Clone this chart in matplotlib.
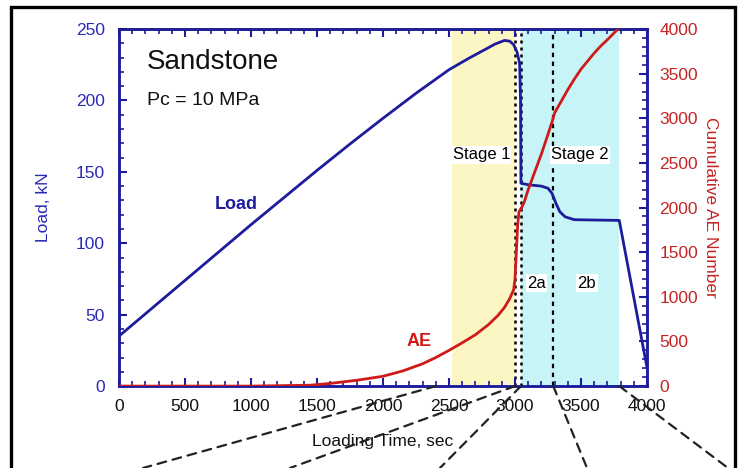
import matplotlib.pyplot as plt
from matplotlib.patches import Rectangle, ConnectionPatch

plt.rcParams['font.family'] = ['Liberation Sans', 'DejaVu Sans']

# load record, kN vs loading time, s
load_t = [0, 250, 500, 750, 1000, 1250, 1500, 1750, 2000, 2250, 2500, 2650, 2750,
          2850, 2920, 2960, 2990, 3015, 3035, 3042, 3045, 3100, 3200, 3250, 3280,
          3310, 3340, 3380, 3450, 3790, 4000]
load_kn = [35, 54.5, 74, 93.5, 113, 132, 151, 169.5, 187.5, 205, 221.5, 229.5, 234.5,
           239.5, 242, 241.5, 239, 234, 226, 200, 142, 141, 140, 138.5, 135,
           128, 122, 118.5, 116.5, 116, 13]

# cumulative acoustic emission count
ae_t = [0, 1000, 1450, 1600, 1800, 2000, 2150, 2300, 2400, 2500, 2600, 2700, 2800,
        2870, 2920, 2960, 2990, 3000, 3010, 3020, 3030, 3050, 3070, 3100, 3150,
        3200, 3250, 3285, 3300, 3350, 3400, 3450, 3500, 3550, 3600, 3650, 3700, 3780]
ae_n = [0, 0, 10, 30, 65, 110, 170, 250, 320, 400, 485, 575, 690,
        790, 880, 980, 1080, 1200, 1500, 1800, 1950, 2000, 2060, 2200, 2400,
        2600, 2820, 2980, 3060, 3190, 3320, 3440, 3550, 3640, 3730, 3810, 3880, 4000]

stage1 = (2520, 3000)
stage2 = (3045, 3790)
split_2ab = 3290

blue = '#1c1c9c'
red = '#d01a1a'

fig = plt.figure(figsize=(7.39, 4.68), dpi=100)
ax = fig.add_axes([0.161, 0.175, 0.7145, 0.763])
ax2 = ax.twinx()

ax.axvspan(*stage1, color='#fcf6c4', lw=0, zorder=0)
ax.axvspan(*stage2, color='#c6f4f7', lw=0, zorder=0)

ax.axvline(stage1[1], color='k', lw=1.8, ls=(0, (1.2, 1.6)), zorder=1)
ax.axvline(stage2[0], color='k', lw=1.8, ls=(0, (1.2, 1.6)), zorder=1)
ax.axvline(split_2ab, color='k', lw=1.6, ls=(0, (2, 2)), zorder=1)

ax.plot(load_t, load_kn, color=blue, lw=2, zorder=3)
ax2.plot(ae_t, ae_n, color=red, lw=2, zorder=3)

ax.set_xlim(0, 4000)
ax.set_ylim(0, 250)
ax2.set_ylim(0, 4000)
ax.set_xticks(range(0, 4001, 500))
ax.set_xticks(range(0, 4001, 100), minor=True)
ax.set_yticks(range(0, 251, 50))
ax.set_yticks(range(0, 251, 10), minor=True)
ax2.set_yticks(range(0, 4001, 500))
ax2.set_yticks(range(0, 4001, 100), minor=True)

ax.tick_params(axis='x', which='both', direction='in', top=True, colors=blue,
               labelcolor='#111111', labelsize=12.5, pad=9)
ax.tick_params(axis='y', which='both', direction='in', colors=blue,
               labelcolor='#2a2ab8', labelsize=12.5, pad=10)
ax2.tick_params(axis='y', which='both', direction='in', colors=blue,
                labelcolor='#c42424', labelsize=12.5, pad=9)
for a in (ax, ax2):
    a.tick_params(which='major', length=6, width=1.5)
    a.tick_params(which='minor', length=3.5, width=1.2)
    for s in a.spines.values():
        s.set_color(blue)
        s.set_linewidth(1.8)
ax.spines['top'].set_color('#111133')

ax.set_xlabel('Loading Time, sec', fontsize=12.5, color='#111111', labelpad=15)
ax.set_ylabel('Load, kN', fontsize=12.5, color='#2a2ab8', labelpad=18)
ax2.set_ylabel('Cumulative AE Number', fontsize=12.5, color='#c42424',
               rotation=-90, labelpad=14)

ax.text(212, 227, 'Sandstone', fontsize=20, va='center', color='#111111')
ax.text(212, 200, 'Pc = 10 MPa', fontsize=14, va='center', color='#111111')
ax.text(886, 127, 'Load', fontsize=13, fontweight='bold', color=blue,
        ha='center', va='center')
ax.text(2270, 31, 'AE', fontsize=13, fontweight='bold', color=red,
        ha='center', va='center')

box = dict(facecolor='white', edgecolor='none', pad=1)
ax.text(2745, 162, 'Stage 1', fontsize=12, ha='center', va='center', bbox=box, zorder=2)
ax.text(3490, 162, 'Stage 2', fontsize=12, ha='center', va='center', bbox=box, zorder=2)
ax.text(3165, 72, '2a', fontsize=12, ha='center', va='center', bbox=box, zorder=2)
ax.text(3545, 72, '2b', fontsize=12, ha='center', va='center', bbox=box, zorder=2)

# zoom-out guide lines running off the bottom edge
for xa, fx in [(2400, 143), (stage1[1], 290), (stage2[0], 440),
               (split_2ab, 587), (stage2[1], 728)]:
    con = ConnectionPatch(xyA=(xa, 0), coordsA=ax.transData,
                          xyB=(fx / 739, 0), coordsB=fig.transFigure,
                          color='#222222', lw=1.6, ls=(0, (4, 3)))
    fig.add_artist(con)

fig.add_artist(Rectangle((10.5 / 739, -0.05), 724.5 / 739, 1.05 - 7.5 / 468,
                         transform=fig.transFigure, fill=False,
                         edgecolor='k', lw=2.4))

fig.savefig('out.png', dpi=100)
